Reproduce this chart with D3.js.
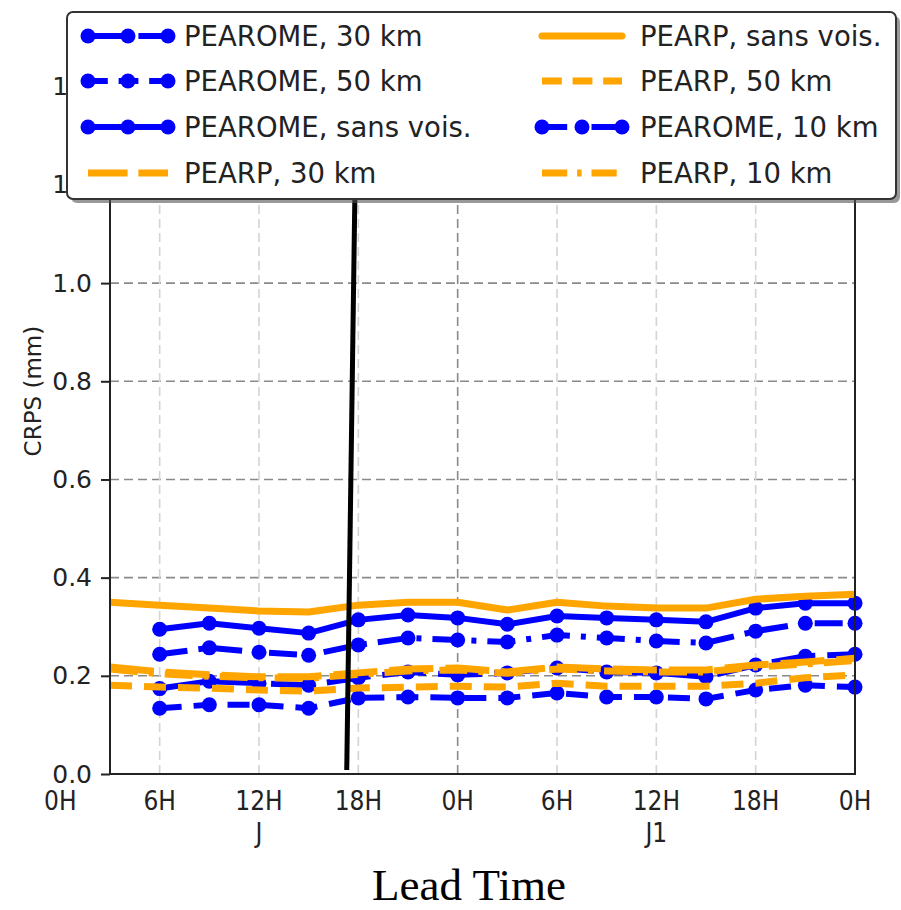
<!DOCTYPE html>
<html>
<head>
<meta charset="utf-8">
<script src="https://cdn.jsdelivr.net/npm/d3@7"></script>
<style>
  body { margin: 0; background: #fff; }
  svg { display: block; }
</style>
</head>
<body>
<script>
// Lead times (hours)
var hoursPearome = [6, 9, 12, 15, 18, 21, 24, 27, 30, 33, 36, 39, 42, 45, 48];
var hoursPearp = [3, 6, 9, 12, 15, 18, 21, 24, 27, 30, 33, 36, 39, 42, 45, 48];

// CRPS values (mm)
var pearome30 = [0.174, 0.189, 0.185, 0.181, 0.196, 0.208, 0.202, 0.206, 0.216, 0.208, 0.206, 0.198, 0.222, 0.240, 0.244];
var pearome50 = [0.134, 0.141, 0.141, 0.134, 0.155, 0.157, 0.155, 0.155, 0.165, 0.157, 0.157, 0.153, 0.171, 0.181, 0.177];
var pearomeSans = [0.295, 0.307, 0.297, 0.287, 0.314, 0.324, 0.318, 0.305, 0.322, 0.318, 0.314, 0.310, 0.338, 0.348, 0.348];
var pearome10 = [0.244, 0.257, 0.248, 0.242, 0.263, 0.277, 0.273, 0.269, 0.283, 0.277, 0.271, 0.267, 0.291, 0.307, 0.307];
var pearp30 = [0.218, 0.208, 0.202, 0.198, 0.198, 0.206, 0.214, 0.216, 0.208, 0.218, 0.214, 0.212, 0.212, 0.222, 0.228, 0.236];
var pearpSans = [0.350, 0.344, 0.338, 0.332, 0.330, 0.344, 0.350, 0.350, 0.334, 0.350, 0.342, 0.338, 0.338, 0.356, 0.362, 0.366];
var pearp50 = [0.181, 0.177, 0.175, 0.171, 0.169, 0.175, 0.177, 0.179, 0.177, 0.185, 0.179, 0.179, 0.179, 0.185, 0.196, 0.202];
var pearp10 = [0.214, 0.204, 0.199, 0.196, 0.195, 0.203, 0.210, 0.212, 0.205, 0.214, 0.210, 0.208, 0.208, 0.218, 0.224, 0.231];

// Tick labels
var xTickHours = [0, 6, 12, 18, 24, 30, 36, 42, 48];
var xTickLabels = ["0H", "6H", "12H", "18H", "0H", "6H", "12H", "18H", "0H"];
var dayHours = [12, 36];
var dayLabels = ["J", "J1"];
var yTicks = [0, 0.2, 0.4, 0.6, 0.8, 1.0, 1.2, 1.4];

// Slanted black marker line (hours, mm)
var markerLine = [[17.3, 0.008], [17.8, 1.2]];

var width = 901, height = 910;
var margin = {left: 110, right: 46, top: 20, bottom: 136};

var svg = d3.select("body")
    .append("svg")
    .attr("width", width)
    .attr("height", height);

var x = d3.scaleLinear()
    .domain([3, 48])
    .range([margin.left, width - margin.right]);

var y = d3.scaleLinear()
    .domain([0, 1.536])
    .range([height - margin.bottom, margin.top]);

var blue = "#0000ff", orange = "#ffa500";

// Dash styles
var dashed = "22,12", dashdot = "28,11,5,11", longdash = "44,12";

// Series in plotting order (same order as matplotlib legend columns)
var series = [
    {name: "PEAROME, 30 km", hours: hoursPearome, values: pearome30, color: blue, dash: longdash, marker: true},
    {name: "PEAROME, 50 km", hours: hoursPearome, values: pearome50, color: blue, dash: dashed, marker: true},
    {name: "PEAROME, sans vois.", hours: hoursPearome, values: pearomeSans, color: blue, dash: null, marker: true},
    {name: "PEARP, 30 km", hours: hoursPearp, values: pearp30, color: orange, dash: longdash, marker: false},
    {name: "PEARP, sans vois.", hours: hoursPearp, values: pearpSans, color: orange, dash: null, marker: false},
    {name: "PEARP, 50 km", hours: hoursPearp, values: pearp50, color: orange, dash: dashed, marker: false},
    {name: "PEAROME, 10 km", hours: hoursPearome, values: pearome10, color: blue, dash: dashdot, marker: true},
    {name: "PEARP, 10 km", hours: hoursPearp, values: pearp10, color: orange, dash: dashdot, marker: false}
];

// Grid
var grid = svg.append("g").attr("class", "grid");

grid.selectAll(".hgrid")
    .data(yTicks.filter(function(d) { return d > 0; }))
    .enter().append("line")
    .attr("x1", x.range()[0])
    .attr("x2", x.range()[1])
    .attr("y1", function(d) { return y(d); })
    .attr("y2", function(d) { return y(d); })
    .attr("stroke", "#8a8a8a")
    .attr("stroke-width", 1.6)
    .attr("stroke-dasharray", "9,5");

grid.selectAll(".vgrid")
    .data(xTickHours.filter(function(d) { return d > 3 && d < 48; }))
    .enter().append("line")
    .attr("x1", function(d) { return x(d); })
    .attr("x2", function(d) { return x(d); })
    .attr("y1", y.range()[0])
    .attr("y2", y.range()[1])
    .attr("stroke", function(d) { return d == 24 ? "#8a8a8a" : "#d4d4d4"; })
    .attr("stroke-width", 1.6)
    .attr("stroke-dasharray", "9,5");

// Lines
var line = d3.line()
    .x(function(d) { return x(d[0]); })
    .y(function(d) { return y(d[1]); });

series.forEach(function(s) {
    var pts = s.hours.map(function(h, i) { return [h, s.values[i]]; });
    var g = svg.append("g").attr("class", "series");
    g.append("path")
        .datum(pts)
        .attr("fill", "none")
        .attr("stroke", s.color)
        .attr("stroke-width", s.color == blue ? 6 : 7)
        .attr("stroke-linejoin", "round")
        .attr("stroke-dasharray", s.dash)
        .attr("d", line);
    if (s.marker) {
        g.selectAll("circle")
            .data(pts)
            .enter().append("circle")
            .attr("cx", function(d) { return x(d[0]); })
            .attr("cy", function(d) { return y(d[1]); })
            .attr("r", 7.5)
            .attr("fill", s.color);
    }
});

// Black annotation line
svg.append("path")
    .datum(markerLine)
    .attr("fill", "none")
    .attr("stroke", "#000")
    .attr("stroke-width", 5)
    .attr("d", line);

// Frame
svg.append("rect")
    .attr("x", x.range()[0])
    .attr("y", y.range()[1])
    .attr("width", x.range()[1] - x.range()[0])
    .attr("height", y.range()[0] - y.range()[1])
    .attr("fill", "none")
    .attr("stroke", "#222")
    .attr("stroke-width", 2);

// Y axis
var yAxis = svg.append("g")
    .attr("transform", "translate(" + x.range()[0] + ",0)")
    .call(d3.axisLeft(y).tickValues(yTicks).tickFormat(d3.format(".1f")).tickSize(9).tickPadding(9));
yAxis.select(".domain").remove();
yAxis.selectAll("line").attr("stroke", "#222").attr("stroke-width", 2);
yAxis.selectAll("text")
    .attr("font-family", "DejaVu Sans")
    .attr("font-size", 25)
    .attr("fill", "#222");

svg.append("text")
    .attr("transform", "translate(33," + y(0.78) + ") rotate(-90)")
    .attr("text-anchor", "middle")
    .attr("dominant-baseline", "central")
    .attr("font-family", "DejaVu Sans")
    .attr("font-size", 23)
    .attr("fill", "#222")
    .text("CRPS (mm)");

// X tick labels (the 0H at the start lies left of the frame)
svg.append("g")
    .selectAll("text")
    .data(xTickHours)
    .enter().append("text")
    .attr("x", function(d) { return x(d); })
    .attr("y", 810)
    .attr("text-anchor", "middle")
    .attr("font-family", "Liberation Sans Narrow, DejaVu Sans Condensed, sans-serif")
    .attr("font-size", 26)
    .attr("fill", "#222")
    .text(function(d, i) { return xTickLabels[i]; });

svg.append("g")
    .selectAll("text")
    .data(dayHours)
    .enter().append("text")
    .attr("x", function(d) { return x(d); })
    .attr("y", 842)
    .attr("text-anchor", "middle")
    .attr("font-family", "Liberation Sans Narrow, DejaVu Sans Condensed, sans-serif")
    .attr("font-size", 26)
    .attr("fill", "#222")
    .text(function(d, i) { return dayLabels[i]; });

svg.append("text")
    .attr("x", 469)
    .attr("y", 900)
    .attr("text-anchor", "middle")
    .attr("font-family", "Liberation Serif")
    .attr("font-size", 45)
    .attr("fill", "#000")
    .text("Lead Time");

// Legend
var legend = svg.append("g").attr("class", "legend");

legend.append("rect")
    .attr("x", 71).attr("y", 16)
    .attr("width", 829).attr("height", 187)
    .attr("rx", 6)
    .attr("fill", "#555")
    .attr("opacity", 0.6);

legend.append("rect")
    .attr("x", 67).attr("y", 12)
    .attr("width", 829).attr("height", 187)
    .attr("rx", 6)
    .attr("fill", "#fff")
    .attr("stroke", "#333")
    .attr("stroke-width", 2);

var rowY = [36, 81, 127, 173];
var colX = [88, 542];
var handleLen = 80;

series.forEach(function(s, i) {
    var col = Math.floor(i / 4), row = i % 4;
    var x0 = colX[col], yy = rowY[row];
    var item = legend.append("g")
        .attr("transform", "translate(" + x0 + "," + yy + ")");
    item.append("line")
        .attr("x1", 0).attr("x2", handleLen)
        .attr("y1", 0).attr("y2", 0)
        .attr("stroke", s.color)
        .attr("stroke-width", s.color == blue ? 6 : 7)
        .attr("stroke-linecap", s.dash ? "butt" : "round")
        .attr("stroke-dasharray", s.dash ? s.dash.split(",").map(function(v) { return +v * 0.9; }).join(",") : null);
    if (s.marker) {
        item.selectAll("circle")
            .data([0, handleLen / 2, handleLen])
            .enter().append("circle")
            .attr("cx", function(d) { return d; })
            .attr("cy", 0)
            .attr("r", 7.5)
            .attr("fill", s.color);
    }
    item.append("text")
        .attr("x", col == 0 ? 96 : 98)
        .attr("y", 0)
        .attr("dominant-baseline", "central")
        .attr("font-family", "DejaVu Sans")
        .attr("font-size", 27.5)
        .attr("fill", "#222")
        .text(s.name);
});
</script>
</body>
</html>
